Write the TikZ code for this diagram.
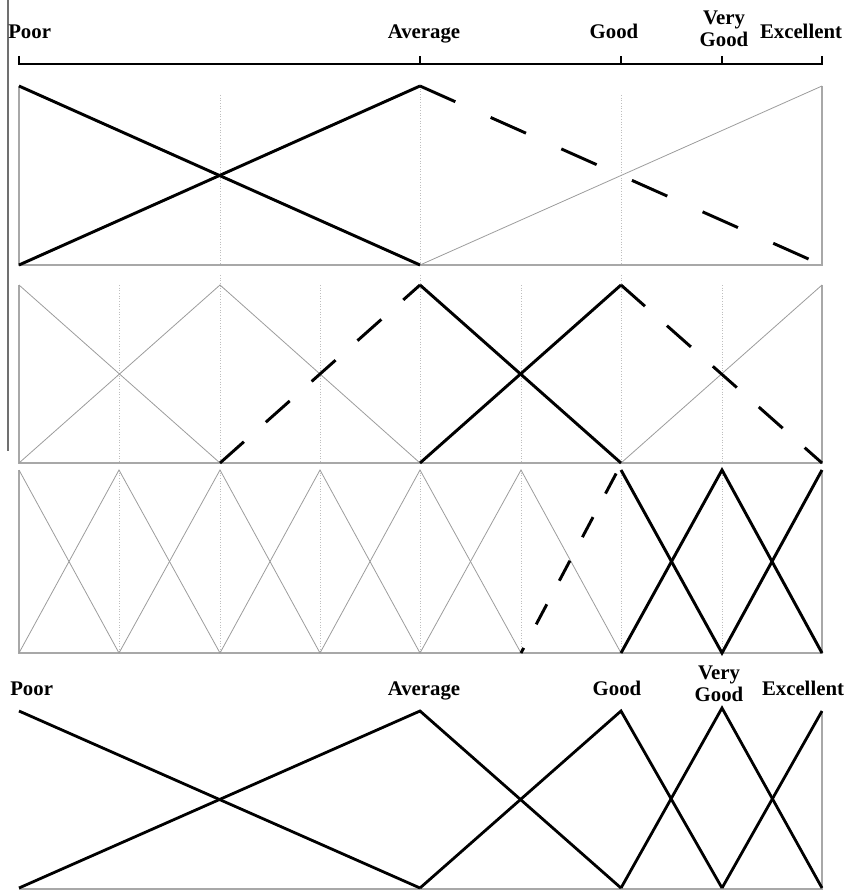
\documentclass[tikz,border=0pt]{standalone}
\usepackage{fontspec}
\setmainfont{Liberation Serif}
\definecolor{Frame}{HTML}{A8A8A8}
\definecolor{Faint}{HTML}{9C9C9C}
\definecolor{Grid}{HTML}{BEBEBE}
\definecolor{Bar}{HTML}{707070}
\tikzset{
  mfthick/.style={line width=2.2pt,draw=black},
  mfdash/.style={mfthick,dash pattern=on 24pt off 22pt},
  mfthin/.style={line width=0.6pt,draw=Faint},
  gridline/.style={line width=0.6pt,draw=Grid,dash pattern=on 0.8pt off 1.2pt},
  framebox/.style={line width=1.4pt,draw=Frame},
  termlabel/.style={inner sep=0pt,align=center,font=\fontsize{15.6}{16.5}\selectfont\bfseries},
}

\begin{document}
\begin{tikzpicture}[x=0.75pt,y=-0.75pt]
    \useasboundingbox (0,0) rectangle (844,891);
    \draw[line width=1.5pt,draw=Bar] (8,0) -- (8,451);

    % linguistic scale
    \draw[line width=1.9pt] (19,56) -- (19,64) -- (822,64) -- (822,56);
    \draw[line width=1.9pt] (420,64) -- (420,56);
    \draw[line width=1.9pt] (621,64) -- (621,56);
    \draw[line width=1.9pt] (722,64) -- (722,56);
    \node[termlabel,anchor=base west] (poorA) at (8,39) {Poor};
    \node[termlabel,anchor=base] (avgA) at (424,39) {Average};
    \node[termlabel,anchor=base] (goodA) at (614,39) {Good};
    \node[termlabel,anchor=north] (vgoodA) at (724,11) {Very\\Good};
    \node[termlabel,anchor=base] (excA) at (801,39) {Excellent};

    % three terms
    \draw[gridline] (220,95) -- (220,265);
    \draw[gridline] (420,86) -- (420,265);
    \draw[gridline] (621,95) -- (621,265);
    \draw[framebox] (19,86) -- (19,265) -- (822,265) -- (822,86);
    \draw[mfthin] (420,265) -- (822,86);
    \draw[mfthick] (19,86) -- (420,265);
    \draw[mfthick] (19,265) -- (420,86);
    \draw[mfdash,dash pattern=on 29pt off 29pt] (420,86) -- (822,265);

    % five terms
    \draw[gridline] (119,285) -- (119,463);
    \draw[gridline] (220,275) -- (220,463);
    \draw[gridline] (320,285) -- (320,463);
    \draw[gridline] (420,275) -- (420,463);
    \draw[gridline] (521,285) -- (521,463);
    \draw[gridline] (621,275) -- (621,463);
    \draw[gridline] (722,285) -- (722,463);
    \draw[framebox] (19,285) -- (19,463) -- (822,463) -- (822,285);
    \draw[mfthin] (19,285) -- (220,463);
    \draw[mfthin] (19,463) -- (220,285) -- (420,463);
    \draw[mfthin] (621,463) -- (822,285);
    \draw[mfthick] (420,285) -- (621,463);
    \draw[mfthick] (420,463) -- (621,285);
    \draw[mfdash] (220,463) -- (420,285);
    \draw[mfdash] (621,285) -- (822,463);

    % nine terms
    \draw[gridline] (119,470) -- (119,653);
    \draw[gridline] (220,470) -- (220,653);
    \draw[gridline] (320,470) -- (320,653);
    \draw[gridline] (420,470) -- (420,653);
    \draw[gridline] (521,470) -- (521,653);
    \draw[gridline] (621,470) -- (621,653);
    \draw[gridline] (722,470) -- (722,653);
    \draw[framebox] (19,470) -- (19,653) -- (822,653) -- (822,470);
    \draw[mfthin] (19,470) -- (119,653) -- (220,470) -- (320,653) -- (420,470) -- (521,653);
    \draw[mfthin] (19,653) -- (119,470) -- (220,653) -- (320,470) -- (420,653) -- (521,470) -- (621,653);
    \draw[mfthick] (621,470) -- (722,653) -- (822,470);
    \draw[mfthick] (621,653) -- (722,470) -- (822,653);
    \draw[mfdash,dash pattern=on 17pt off 20pt,dash phase=34pt] (618,470) -- (521,653);

    % resulting unbalanced scale
    \node[termlabel,anchor=base west] (poorB) at (10,695) {Poor};
    \node[termlabel,anchor=base] (avgB) at (424,695) {Average};
    \node[termlabel,anchor=base] (goodB) at (617,695) {Good};
    \node[termlabel,anchor=north] (vgoodB) at (719,666) {Very\\Good};
    \node[termlabel,anchor=base] (excB) at (803,695) {Excellent};
    \draw[framebox] (19,889) -- (822,889) -- (822,711);
    \draw[mfthick,line width=2.1pt] (19,711) -- (420,888);
    \draw[mfthick,line width=2.1pt] (19,888) -- (420,711) -- (621,888);
    \draw[mfthick,line width=2.1pt] (420,888) -- (621,711) -- (722,888);
    \draw[mfthick,line width=2.1pt] (621,888) -- (722,708) -- (822,888);
    \draw[mfthick,line width=2.1pt] (722,888) -- (822,711);
\end{tikzpicture}
\end{document}
